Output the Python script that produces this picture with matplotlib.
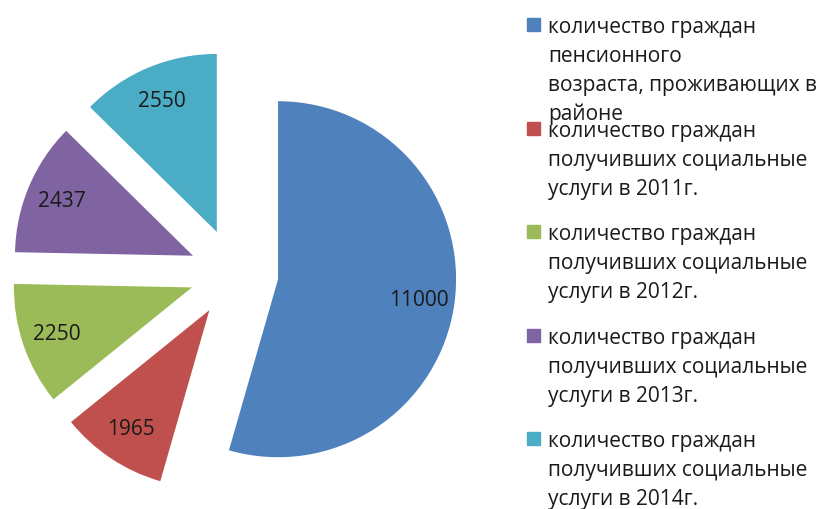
import matplotlib
matplotlib.use("Agg")
import matplotlib.pyplot as plt
from matplotlib.patches import Rectangle

plt.rcParams['font.family'] = ['Open Sans', 'DejaVu Sans']

# data
values = [11000, 1965, 2250, 2437, 2550]
labels = ["количество граждан\nпенсионного\nвозраста, проживающих в\nрайоне",
          "количество граждан\nполучивших социальные\nуслуги в 2011г.",
          "количество граждан\nполучивших социальные\nуслуги в 2012г.",
          "количество граждан\nполучивших социальные\nуслуги в 2013г.",
          "количество граждан\nполучивших социальные\nуслуги в 2014г."]
colors = ["#4F81BD", "#C0504D", "#9BBB59", "#8064A2", "#4BACC6"]

W, H = 817, 510
fig = plt.figure(figsize=(W / 100, H / 100), dpi=100)
ax = fig.add_axes([0, 0, 1, 1])

# pie centre and radius in pixels
cx, cy, r = 234, 274, 178

wedges, texts, autotexts = ax.pie(values, colors=colors, startangle=90, counterclock=False,
                                  explode=[0.25] * len(values), radius=1,
                                  autopct=lambda p: "%d" % round(p * sum(values) / 100.0),
                                  pctdistance=0.8,
                                  textprops=dict(fontsize=15, color="#1a1a1a"))
ax.set_xlim(-cx / r, (W - cx) / r)
ax.set_ylim(-(H - cy) / r, cy / r)
ax.set_aspect('auto')
ax.axis('off')

# legend, drawn line by line (baselines in pixels)
first_base = [33, 137, 240, 344, 447]
step = 29
for lab, col, y0 in zip(labels, colors, first_base):
    fig.patches.append(Rectangle((527 / W, 1 - (y0 - 1) / H), 13 / W, 13 / H,
                                 transform=fig.transFigure, color=col))
    for i, line in enumerate(lab.split("\n")):
        fig.text(548 / W, 1 - (y0 + i * step) / H, line, fontsize=15,
                 va='baseline', ha='left', color="#1a1a1a")

fig.savefig("out.png", dpi=100)
